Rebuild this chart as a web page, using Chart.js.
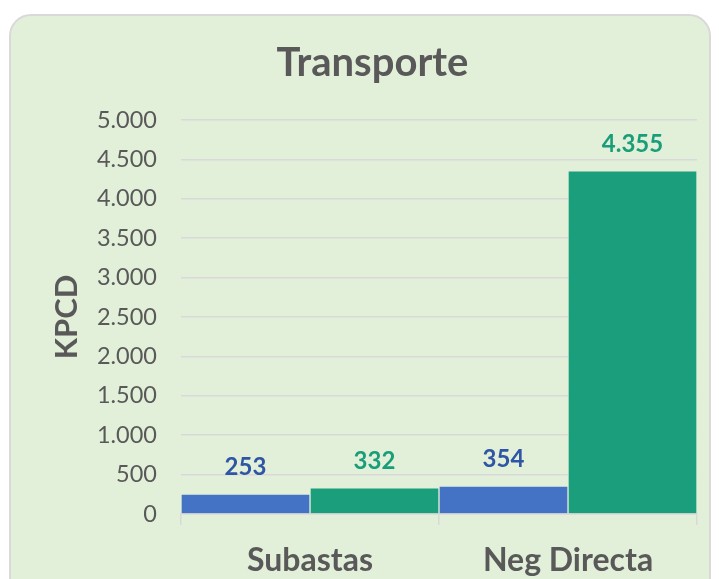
<!DOCTYPE html>
<html>
<head>
<meta charset="utf-8">
<script src="https://cdn.jsdelivr.net/npm/chart.js@4"></script>
<style>
  html, body { margin: 0; padding: 0; background: #ffffff; }
  #wrap { position: relative; width: 719px; height: 579px; overflow: hidden; }
  #card { position: absolute; left: 9px; top: 14px; width: 702px; height: 620px;
          background: #e2efd9; border: 2px solid #d9d9d9; border-radius: 22px; box-sizing: border-box; }
  #c { position: absolute; left: 0; top: 0; }
</style>
</head>
<body>
<div id="wrap">
  <div id="card"></div>
  <canvas id="c" width="719" height="579"></canvas>
</div>
<script>
const categories = ["Subastas", "Neg Directa"];
const seriesA = [253, 354];
const seriesB = [332, 4355];
const yTicks = [0, 500, 1000, 1500, 2000, 2500, 3000, 3500, 4000, 4500, 5000];

const FONT = "Lato, 'Open Sans', sans-serif";
const fmt = v => String(v).replace(/\B(?=(\d{3})+(?!\d))/g, ".");

const labelPlugin = {
  id: 'barLabels',
  afterDatasetsDraw(chart) {
    const ctx = chart.ctx;
    const colors = ['#2f55a5', '#1a9e7a'];
    chart.data.datasets.forEach((ds, di) => {
      const meta = chart.getDatasetMeta(di);
      meta.data.forEach((el, i) => {
        ctx.save();
        ctx.font = "bold 24px " + FONT;
        ctx.fillStyle = colors[di];
        ctx.textAlign = 'center';
        ctx.textBaseline = 'middle';
        ctx.fillText(fmt(ds.data[i]), el.x, el.y - 27);
        ctx.restore();
      });
    });
  }
};

new Chart(document.getElementById('c'), {
  type: 'bar',
  data: {
    labels: categories,
    datasets: [
      { label: 'A', data: seriesA, backgroundColor: '#4472c4', borderColor: 'rgba(226,239,217,0.7)', borderWidth: 1, borderSkipped: 'bottom', categoryPercentage: 1, barPercentage: 1 },
      { label: 'B', data: seriesB, backgroundColor: '#1b9e7b', borderColor: 'rgba(226,239,217,0.7)', borderWidth: 1, borderSkipped: 'bottom', categoryPercentage: 1, barPercentage: 1 }
    ]
  },
  options: {
    responsive: false,
    animation: false,
    devicePixelRatio: 1,
    layout: { padding: { left: 48, right: 22, top: 0, bottom: 0 } },
    plugins: {
      legend: { display: false },
      tooltip: { enabled: false },
      title: {
        display: true, text: 'Transporte', color: '#595959',
        font: { family: FONT, size: 40, weight: 'bold' },
        padding: { top: 39, bottom: 33 }
      }
    },
    scales: {
      y: {
        min: 0, max: 5000,
        afterBuildTicks: s => { s.ticks = yTicks.map(v => ({ value: v })); },
        afterFit: s => { s.width = 133; },
        ticks: { color: '#595959', font: { family: FONT, size: 23.5 }, padding: 24, callback: v => fmt(v) },
        grid: { color: '#d9d9d9', lineWidth: 1.5, drawTicks: false },
        border: { display: false },
        title: { display: true, text: 'KPCD', color: '#595959', font: { family: FONT, size: 31, weight: 'bold' }, padding: 0 }
      },
      x: {
        afterFit: s => { s.height = 65; },
        ticks: { color: '#595959', font: { family: FONT, size: 32, weight: 'bold' }, padding: 16 },
        grid: { drawOnChartArea: false, drawTicks: true, tickLength: 11, color: '#d9d9d9', lineWidth: 1.5, offset: true },
        border: { display: true, color: '#d9d9d9', width: 1.5 }
      }
    }
  },
  plugins: [labelPlugin]
});
</script>
</body>
</html>
